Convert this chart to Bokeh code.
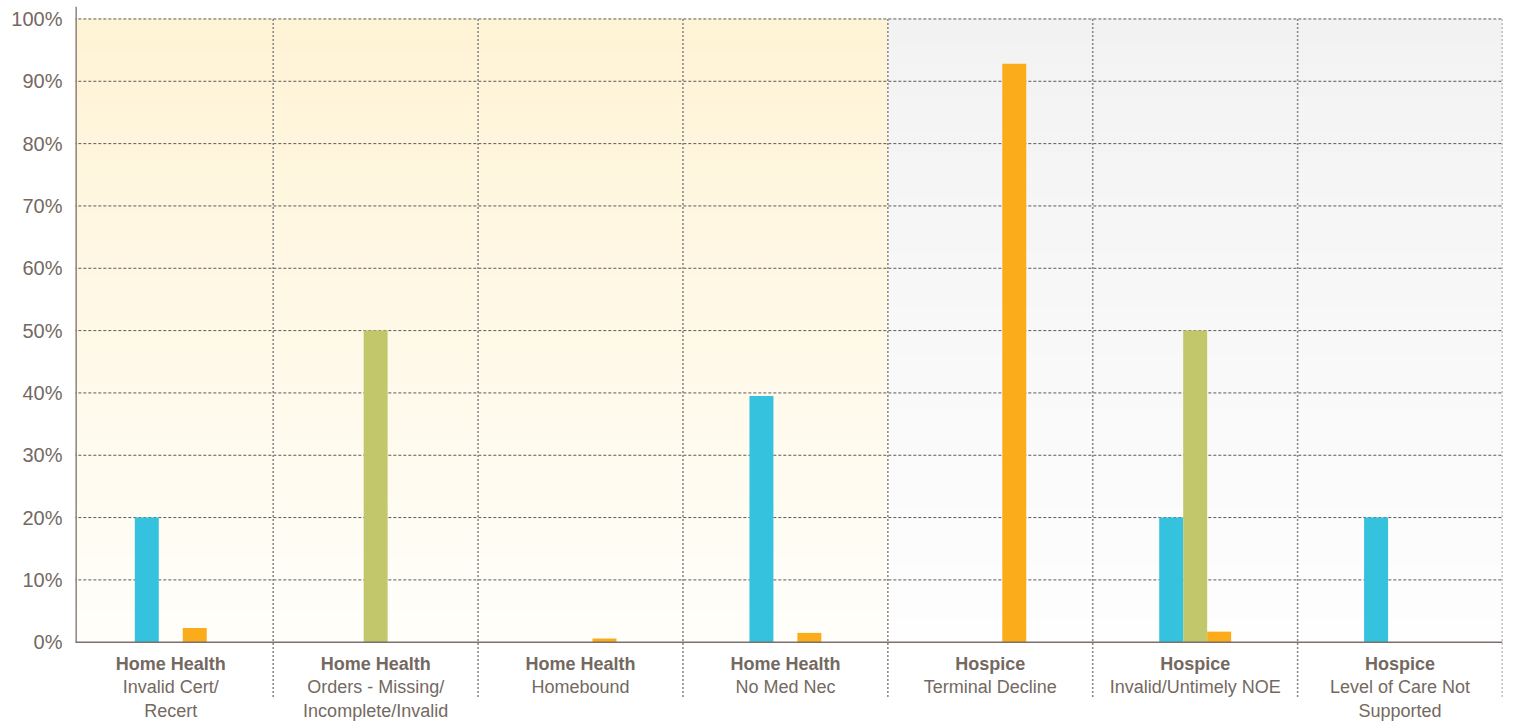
import numpy as np
from bokeh.plotting import figure
from bokeh.models import Range1d, FixedTicker, PrintfTickFormatter
from bokeh.core.properties import value
from bokeh.embed import file_html
from bokeh.resources import INLINE

# ---- data ----
groups = ["Home Health", "Home Health", "Home Health", "Home Health",
          "Hospice", "Hospice", "Hospice"]
reasons = ["Invalid Cert/\nRecert", "Orders - Missing/\nIncomplete/Invalid",
           "Homebound", "No Med Nec", "Terminal Decline",
           "Invalid/Untimely NOE", "Level of Care Not\nSupported"]
series_blue = [20, 0, 0, 39.5, 0, 20, 20]
series_green = [0, 50, 0, 0, 0, 50, 0]
series_orange = [2.3, 0, 0.6, 1.5, 92.8, 1.7, 0]
y_ticks = [0, 10, 20, 30, 40, 50, 60, 70, 80, 90, 100]

BLUE = "#35C2DF"
GREEN = "#C3C76B"
ORANGE = "#FBAC1A"
TEXT = "#746961"
AXIS = "#7B716A"
FONT = "Liberation Sans"

n = len(groups)
x_start = 0.035
y_top = 102
y_bottom = -13.2

p = figure(width=1513, height=724, x_range=Range1d(x_start, n), y_range=Range1d(y_bottom, y_top),
           output_backend="svg", toolbar_location=None, x_axis_location=None,
           min_border_left=75, min_border_right=11, min_border_top=6, min_border_bottom=0)
p.outline_line_color = None
p.grid.visible = False
p.background_fill_color = "white"
p.border_fill_color = "white"

# ---- y axis ----
ax = p.yaxis[0]
ax.ticker = FixedTicker(ticks=y_ticks)
ax.formatter = PrintfTickFormatter(format="%d%%")
ax.axis_line_color = None
ax.major_tick_line_color = None
ax.minor_tick_line_color = None
ax.major_tick_out = 0
ax.major_label_standoff = 13
ax.major_label_text_font = FONT
ax.major_label_text_font_size = "20px"
ax.major_label_text_color = TEXT

# ---- background gradients ----
nb = 80
def mix(c0, c1, t):
    a = np.array([int(c0[i:i + 2], 16) for i in (1, 3, 5)], float)
    b = np.array([int(c1[i:i + 2], 16) for i in (1, 3, 5)], float)
    c = a + (b - a) * t
    return "#%02x%02x%02x" % tuple(int(round(v)) for v in c)

ymax = y_ticks[-1]
edges = np.linspace(0, ymax, nb + 1)
bl, br, bb, bt, bc = [], [], [], [], []
split = groups.count("Home Health")
for j in range(nb):
    t = (edges[j] + edges[j + 1]) / 2 / ymax
    bl += [0, split]
    br += [split, n]
    bb += [edges[j], edges[j]]
    bt += [edges[j + 1] + 0.05, edges[j + 1] + 0.05]
    bc += [mix("#FFFEFA", "#FFF3D5", t), mix("#FEFEFE", "#F2F2F2", t)]
p.quad(left=bl, right=br, bottom=bb, top=bt, fill_color=bc, line_color=None)

# ---- grid lines ----
hy = y_ticks[1:]
p.segment(x0=[0] * len(hy), x1=[n] * len(hy), y0=hy, y1=hy,
          line_color="#5a5a5a", line_width=1, line_dash="3 2")
vx = list(range(1, n + 1))
p.segment(x0=vx, x1=vx, y0=[-8.8] * len(vx), y1=[ymax] * len(vx),
          line_color="#8a8a8a", line_width=1.6, line_dash="2 2")

# ---- bars ----
centers = np.arange(n) + 0.5
w = 0.117
p.vbar(x=centers - w, top=series_blue, bottom=0, width=w, fill_color=BLUE, line_color=None)
p.vbar(x=centers, top=series_green, bottom=0, width=w, fill_color=GREEN, line_color=None)
p.vbar(x=centers + w, top=series_orange, bottom=0, width=w, fill_color=ORANGE, line_color=None)

# ---- axis lines ----
p.segment(x0=[0], x1=[n], y0=[0], y1=[0], line_color=AXIS, line_width=1.6)
p.segment(x0=[x_start], x1=[x_start], y0=[0], y1=[y_top], line_color=AXIS, line_width=2.6)

# ---- category labels ----
line1 = [r.split("\n")[0] for r in reasons]
line2 = [r.split("\n")[1] if "\n" in r else "" for r in reasons]
common = dict(text_align="center", text_baseline="alphabetic", text_font=value(FONT),
              text_font_size="18px", text_color=TEXT)
p.text(x=centers, y=[0] * n, text=groups, y_offset=22, text_font_style="bold", **common)
p.text(x=centers, y=[0] * n, text=line1, y_offset=45, **common)
p.text(x=centers, y=[0] * n, text=line2, y_offset=69, **common)

open("out.html", "w").write(file_html(p, INLINE))
